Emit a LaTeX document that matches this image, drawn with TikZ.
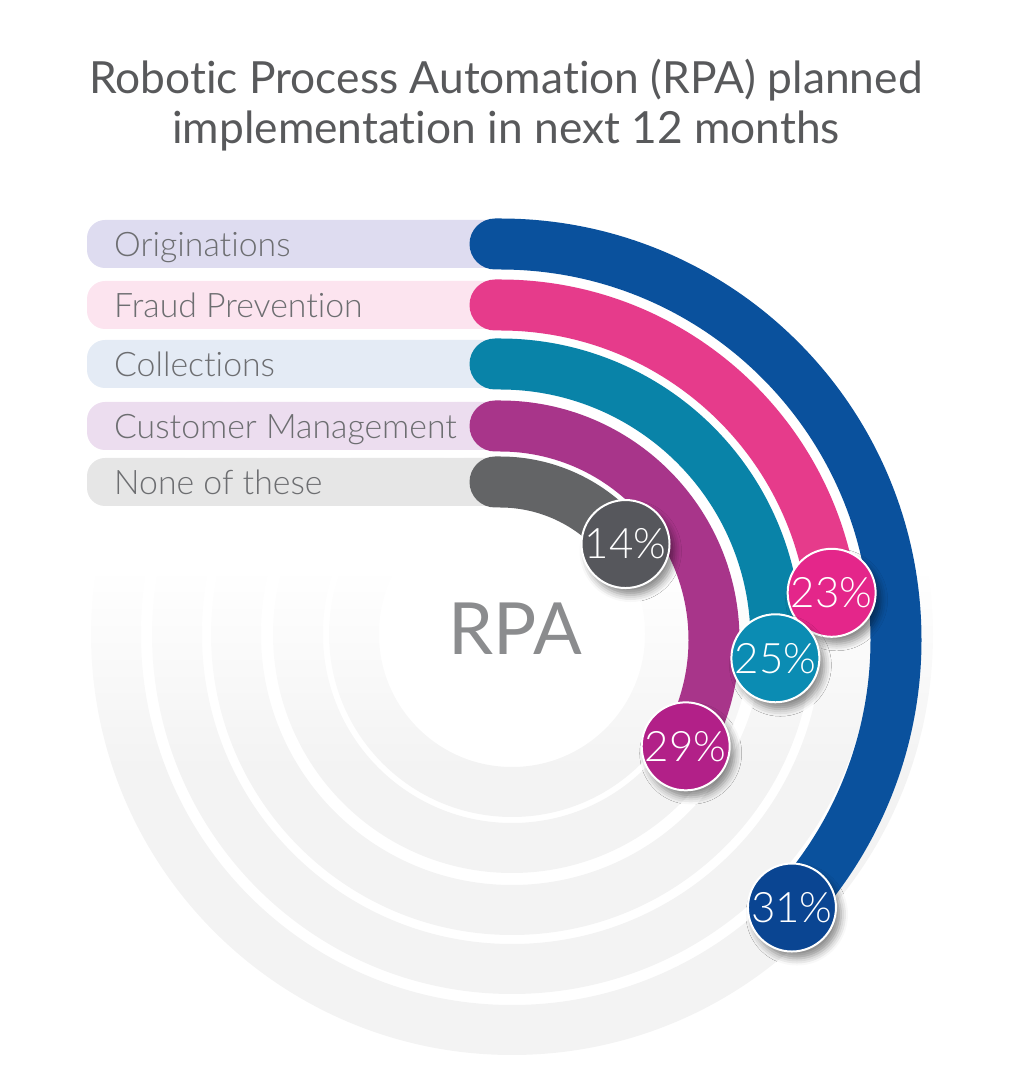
\documentclass[tikz,border=0pt]{standalone}
\usepackage{fontspec}
\setmainfont{Lato}[Ligatures=NoCommon]
\newfontfamily\lightfont{Lato Light}[Ligatures=NoCommon]
\usetikzlibrary{shadows.blur}

\definecolor{titlegrey}{HTML}{58595B}
\definecolor{labelgrey}{HTML}{6D6E71}
\definecolor{rpagrey}{HTML}{8B8C8E}
\definecolor{ringgrey}{HTML}{F3F3F3}
\definecolor{origbar}{HTML}{DEDCF0}
\definecolor{fraudbar}{HTML}{FCE4EF}
\definecolor{collbar}{HTML}{E4EBF5}
\definecolor{custbar}{HTML}{ECDDEF}
\definecolor{nonebar}{HTML}{E6E6E6}
\definecolor{blueband}{HTML}{0A519D}
\definecolor{pinkband}{HTML}{E63B8B}
\definecolor{tealband}{HTML}{0983A8}
\definecolor{purpleband}{HTML}{A8358A}
\definecolor{greyband}{HTML}{636466}
\definecolor{bluedot}{HTML}{0A4592}
\definecolor{pinkdot}{HTML}{E4268A}
\definecolor{tealdot}{HTML}{0B8CB3}
\definecolor{purpledot}{HTML}{B22088}
\definecolor{greydot}{HTML}{56575C}

\pgfdeclareverticalshading{ringshade}{100bp}{color(0bp)=(ringgrey); color(42bp)=(ringgrey); color(54bp)=(white); color(100bp)=(white)}

\tikzset{
  title/.style={anchor=base, text=titlegrey, inner sep=0pt, font=\fontsize{44.3}{50}\selectfont},
  labelbar/.style={rounded corners=18pt},
  catlabel/.style={anchor=base west, text=labelgrey, inner sep=0pt, font=\lightfont\fontsize{33.8}{34}\selectfont},
  band/.style={line width=51pt, line cap=round},
  pct/.style={circle, minimum size=88pt, inner sep=0pt, draw=white, line width=2pt, text=white,
    font=\lightfont\fontsize{42}{42}\selectfont,
    blur shadow={shadow xshift=5pt, shadow yshift=-7pt, shadow blur radius=7pt, shadow opacity=45}},
}

\begin{document}
\begin{tikzpicture}[x=1pt,y=1pt]
\useasboundingbox (0,0) rectangle (1018,1090);

\shade[shading=ringshade, even odd rule] (512,456) circle[radius=421] circle[radius=371]
  circle[radius=360] circle[radius=310] circle[radius=301] circle[radius=251]
  circle[radius=239] circle[radius=189] circle[radius=183] circle[radius=133];

\node[title] (title1) at (506,996) {Robotic Process Automation (RPA) planned};
\node[title] (title2) at (506,946) {implementation in next 12 months};

\fill[origbar, labelbar] (87,822) rectangle (510,870);
\fill[fraudbar, labelbar] (87,761) rectangle (510,809);
\fill[collbar, labelbar] (87,702) rectangle (510,750);
\fill[custbar, labelbar] (87,640) rectangle (510,688);
\fill[nonebar, labelbar] (87,584) rectangle (510,632);
\node[catlabel] (orig) at (114,833) {Originations};
\node[catlabel] (fraud) at (114,772) {Fraud Prevention};
\node[catlabel] (coll) at (114,713) {Collections};
\node[catlabel] (cust) at (114,651) {Customer Management};
\node[catlabel] (none) at (114,595) {None of these};

\draw[band, blueband] (495,846) -- (500,846) arc[start angle=90, end angle=-42.5, radius=396];
\draw[band, pinkband] (495,785) -- (500,785) arc[start angle=90, end angle=8.1, radius=335];
\draw[band, tealband] (495,726) -- (500,726) arc[start angle=90, end angle=-3.8, radius=276];
\draw[band, purpleband] (495,664) -- (500,664) arc[start angle=90, end angle=-29.8, radius=214];
\draw[band, greyband] (495,608) -- (500,608) arc[start angle=90, end angle=37.4, radius=158];

\coordinate (c) at (500,450);
\node[text=rpagrey, anchor=base, font=\fontsize{72}{72}\selectfont] (rpa) at (515,435) {RPA};

\node[pct, fill=greydot] (p14) at ([shift={(37.4:158)}]c) {14\%};
\node[pct, fill=pinkdot] (p23) at ([shift={(8.1:335)}]c) {23\%};
\node[pct, fill=tealdot] (p25) at ([shift={(-3.8:276)}]c) {25\%};
\node[pct, fill=purpledot] (p29) at ([shift={(-29.8:214)}]c) {29\%};
\node[pct, fill=bluedot] (p31) at ([shift={(-42.5:396)}]c) {31\%};
\end{tikzpicture}
\end{document}
